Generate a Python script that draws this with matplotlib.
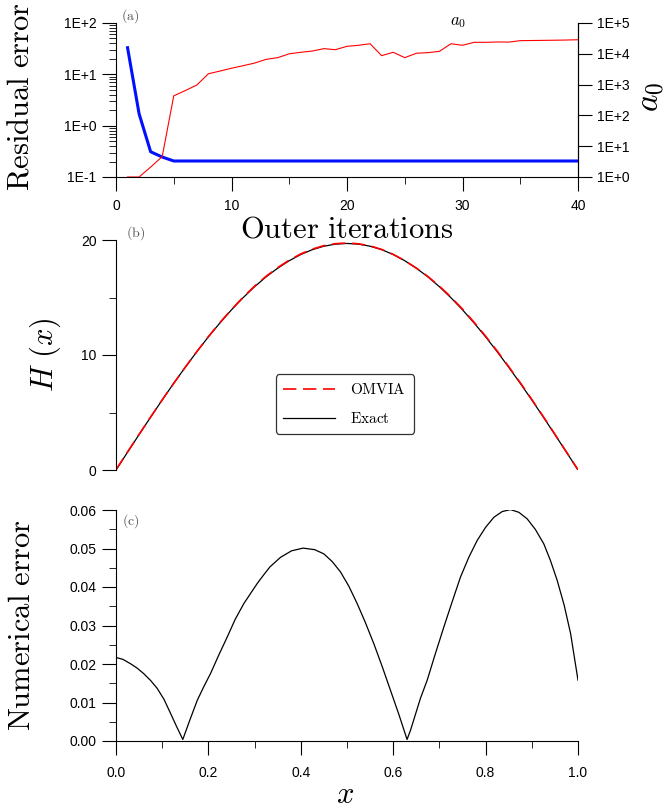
import matplotlib
matplotlib.use('Agg')
import matplotlib.pyplot as plt
from matplotlib.ticker import MultipleLocator, LogLocator, NullFormatter

plt.rcParams['font.family'] = ['Liberation Sans', 'DejaVu Sans']
plt.rcParams['mathtext.fontset'] = 'cm'

# (a) iteraciones externas
iterations = list(range(1, 41))
residual = [33, 1.7, 0.31, 0.245, 0.205, 0.205, 0.205, 0.205, 0.205, 0.205,
            0.205, 0.205, 0.205, 0.205, 0.205, 0.205, 0.205, 0.205, 0.205, 0.205,
            0.205, 0.205, 0.205, 0.205, 0.205, 0.205, 0.205, 0.205, 0.205, 0.205,
            0.205, 0.205, 0.205, 0.205, 0.205, 0.205, 0.205, 0.205, 0.205, 0.205]
a0_values = [1, 1, 2.1, 4.6, 430, 640, 970, 2250, 2750, 3400,
             4100, 5000, 6600, 7500, 10000, 11200, 12300, 14700, 13600, 17500,
             18900, 21200, 8700, 11200, 7500, 10400, 10900, 12000, 21200, 18900,
             23600, 23600, 24200, 24000, 26700, 27000, 27300, 27600, 28000, 28600]

# (b) H(x)
x_h = [0.0, 0.025, 0.05, 0.075, 0.1, 0.125, 0.15, 0.175, 0.2, 0.225, 0.25,
       0.275, 0.3, 0.325, 0.35, 0.375, 0.4, 0.425, 0.45, 0.475, 0.5,
       0.525, 0.55, 0.575, 0.6, 0.625, 0.65, 0.675, 0.7, 0.725, 0.75,
       0.775, 0.8, 0.825, 0.85, 0.875, 0.9, 0.925, 0.95, 0.975, 1.0]
h_exact = [0.0, 1.55, 3.08, 4.60, 6.09, 7.54, 8.94, 10.29, 11.58, 12.79, 13.93,
           14.98, 15.94, 16.80, 17.55, 18.20, 18.74, 19.16, 19.46, 19.64, 19.70,
           19.64, 19.46, 19.16, 18.74, 18.20, 17.55, 16.80, 15.94, 14.98, 13.93,
           12.79, 11.58, 10.29, 8.94, 7.54, 6.09, 4.60, 3.08, 1.55, 0.0]
h_omvia = [0.02, 1.57, 3.10, 4.61, 6.10, 7.54, 8.94, 10.30, 11.60, 12.82, 13.96,
           15.02, 15.99, 16.85, 17.60, 18.25, 18.79, 19.21, 19.51, 19.68, 19.74,
           19.67, 19.49, 19.18, 18.75, 18.20, 17.56, 16.83, 15.99, 15.04, 13.99,
           12.85, 11.64, 10.35, 8.99, 7.59, 6.14, 4.64, 3.11, 1.57, 0.02]

# (c) error numerico
x_err = [0.0, 0.015, 0.031, 0.045, 0.060, 0.075, 0.089, 0.104, 0.118, 0.131, 0.1446,
         0.160, 0.176, 0.190, 0.2045, 0.222, 0.2407, 0.258, 0.2767, 0.3056, 0.320,
         0.333, 0.356, 0.380, 0.405, 0.430, 0.450, 0.468, 0.486, 0.504, 0.522,
         0.540, 0.558, 0.576, 0.594, 0.612, 0.630,
         0.6375, 0.659, 0.6736, 0.690, 0.7096, 0.728, 0.7457, 0.764, 0.7818, 0.800,
         0.8178, 0.836, 0.854, 0.872, 0.890, 0.908, 0.926, 0.940, 0.955, 0.970,
         0.984, 1.0]
err = [0.0217, 0.0212, 0.0201, 0.0190, 0.0175, 0.0157, 0.0137, 0.0108, 0.0072, 0.0038, 0.0004,
       0.0055, 0.0106, 0.0141, 0.0175, 0.0222, 0.0270, 0.0316, 0.0357, 0.0409, 0.0432,
       0.0452, 0.0477, 0.0494, 0.0501, 0.0497, 0.0486, 0.0466, 0.0439, 0.0402, 0.0357,
       0.0307, 0.0253, 0.0194, 0.0132, 0.0070, 0.0004,
       0.0028, 0.0111, 0.0158, 0.0222, 0.0296, 0.0363, 0.0426, 0.0478, 0.0521, 0.0555,
       0.0581, 0.0596, 0.0601, 0.0594, 0.0577, 0.0549, 0.0512, 0.0470, 0.0417, 0.0353,
       0.0279, 0.0158]

W, H = 669, 810
fig = plt.figure(figsize=(W / 100, H / 100), dpi=100)

def box(x0, y0, x1, y1):
    return [x0 / W, 1 - y1 / H, (x1 - x0) / W, (y1 - y0) / H]

tick_fs = 10
big_fs = 22

def style_ticks(a):
    a.tick_params(which='major', direction='out', length=10, width=0.8,
                  labelsize=tick_fs, pad=4)
    a.tick_params(which='minor', direction='out', length=5, width=0.6)

# ---- panel (a)
ax1 = fig.add_axes(box(116, 23, 578, 177))
ax1.plot(iterations, residual, color='#0010ff', lw=2.2, zorder=3)
ax1.set_yscale('log')
ax1.set_ylim(0.1, 100)
ax1.set_xlim(0, 40)
ax1.set_yticks([0.1, 1, 10, 100])
ax1.set_yticklabels(['1E-1', '1E+0', '1E+1', '1E+2'])
ax1.yaxis.set_minor_locator(LogLocator(base=10, subs=range(2, 10)))
ax1.yaxis.set_minor_formatter(NullFormatter())
ax1.xaxis.set_major_locator(MultipleLocator(10))
ax1.xaxis.set_minor_locator(MultipleLocator(5))
ax1.spines['top'].set_visible(False)

ax2 = ax1.twinx()
ax2.plot(iterations, a0_values, color='red', lw=0.8)
ax2.set_yscale('log')
ax2.set_ylim(1, 1e5)
ax2.set_yticks([1, 10, 100, 1e3, 1e4, 1e5])
ax2.set_yticklabels(['1E+0', '1E+1', '1E+2', '1E+3', '1E+4', '1E+5'])
ax2.yaxis.set_minor_locator(LogLocator(base=10, subs=range(2, 10)))
ax2.yaxis.set_minor_formatter(NullFormatter())
ax2.spines['top'].set_visible(False)
ax2.spines['left'].set_visible(False)
ax2.spines['bottom'].set_visible(False)

style_ticks(ax1)
style_ticks(ax2)
ax1.tick_params(axis='x', which='major', pad=6)

ax1.text(0.74, 1.0, r'$a_0$', transform=ax1.transAxes, fontsize=12, ha='center', va='center')

fig.text(21 / W, 1 - 97 / H, r'$\mathrm{Residual\ error}$', rotation=90,
         fontsize=big_fs, ha='center', va='center')
fig.text(651 / W, 1 - 97 / H, r'$a_0$', rotation=90, fontsize=big_fs + 2,
         ha='center', va='center')
fig.text(347 / W, 1 - 230 / H, r'$\mathrm{Outer\ iterations}$', fontsize=big_fs,
         ha='center', va='center')

# ---- panel (b)
ax3 = fig.add_axes(box(116, 240, 578, 470))
ax3.plot(x_h, h_exact, color='black', lw=0.9, label=r'$\mathrm{Exact}$')
ax3.plot(x_h, h_omvia, color='red', lw=1.2, dashes=(8, 4), label=r'$\mathrm{OMVIA}$')
ax3.set_xlim(0, 1)
ax3.set_ylim(0, 20)
ax3.yaxis.set_major_locator(MultipleLocator(10))
ax3.yaxis.set_minor_locator(MultipleLocator(5))
ax3.set_xticks([])
for s in ('top', 'right', 'bottom'):
    ax3.spines[s].set_visible(False)
style_ticks(ax3)
handles, labels = ax3.get_legend_handles_labels()
leg = ax3.legend(handles[::-1], labels[::-1], loc='center', bbox_to_anchor=(0.495, 0.287),
                 fontsize=11, handlelength=3.4, frameon=True, fancybox=True,
                 borderpad=0.5, labelspacing=0.9, handletextpad=1.0, borderaxespad=0)
leg.get_frame().set_edgecolor('black')
leg.get_frame().set_linewidth(0.9)
fig.text(45 / W, 1 - 355 / H, r'$H\ (x)$', rotation=90, fontsize=big_fs,
         ha='center', va='center')

# ---- panel (c)
ax4 = fig.add_axes(box(116, 510, 578, 741))
ax4.plot(x_err, err, color='black', lw=0.9)
ax4.set_xlim(0, 1)
ax4.set_ylim(0, 0.06)
ax4.xaxis.set_major_locator(MultipleLocator(0.2))
ax4.xaxis.set_minor_locator(MultipleLocator(0.1))
ax4.yaxis.set_major_locator(MultipleLocator(0.01))
ax4.yaxis.set_minor_locator(MultipleLocator(0.005))
ax4.set_yticklabels(['%.2f' % v for v in ax4.get_yticks()])
ax4.set_xticklabels(['%.1f' % v for v in ax4.get_xticks()])
for s in ('top', 'right'):
    ax4.spines[s].set_visible(False)
style_ticks(ax4)
ax4.tick_params(axis='x', which='major', pad=8)
fig.text(22 / W, 1 - 625 / H, r'$\mathrm{Numerical\ error}$', rotation=90,
         fontsize=big_fs, ha='center', va='center')
fig.text(345 / W, 1 - 795 / H, r'$x$', fontsize=big_fs, ha='center', va='center')

# etiquetas de panel
for lbl, px, py in (('(a)', 130, 16), ('(b)', 136, 233), ('(c)', 131, 521)):
    fig.text(px / W, 1 - py / H, r'$\mathrm{%s}$' % lbl, fontsize=10, color='#555555',
             ha='center', va='center')

fig.savefig('out.png', dpi=100)
